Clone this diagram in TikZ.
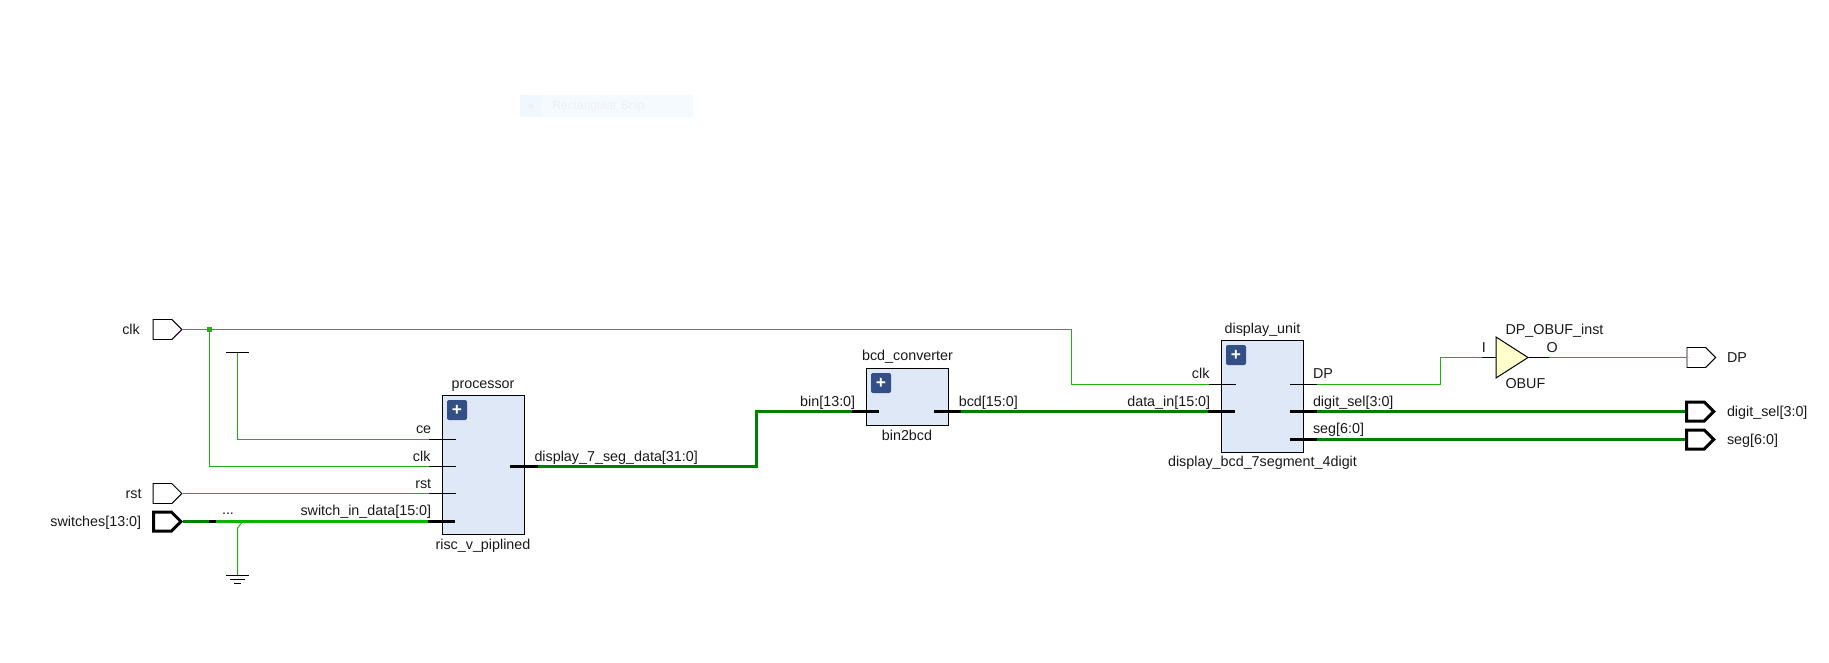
\documentclass[tikz,border=0pt]{standalone}
\usepackage{fontspec}
\setmainfont{Liberation Sans}
\usetikzlibrary{shapes.geometric,shapes.symbols}

\definecolor{wirelight}{RGB}{32,176,16}
\definecolor{busdark}{RGB}{0,128,0}
\definecolor{busbright}{RGB}{16,176,0}
\definecolor{blockfill}{RGB}{222,232,247}
\definecolor{plusfill}{RGB}{51,79,133}
\definecolor{bufferfill}{RGB}{255,255,204}
\definecolor{snipfill}{RGB}{245,250,254}
\definecolor{snipleft}{RGB}{240,247,254}
\definecolor{sniptext}{RGB}{238,240,243}

\tikzset{every picture/.style={line width=0.75pt}}
\tikzset{
  wire/.style={draw=wirelight,line width=0.75pt},
  bus/.style={draw=busdark,line width=2.25pt},
  busb/.style={draw=busbright,line width=2.25pt},
  pin/.style={draw=black,line width=0.75pt},
  buspin/.style={draw=black,line width=2.25pt},
  rail/.style={draw=black,line width=0.75pt},
  portthin/.style={signal,signal to=east,signal pointer angle=90,draw=black,fill=white,line width=0.7pt,inner sep=0pt,minimum width=21.5pt,minimum height=15pt},
  portbus/.style={portthin,line width=2.25pt,minimum width=20.5pt,minimum height=14.25pt},
  blockbox/.style={draw=black,fill=blockfill,line width=0.75pt,inner sep=0pt},
  plusbox/.style={fill=plusfill,rounded corners=1.5pt,minimum size=15pt,inner sep=0pt,text=white,font=\fontsize{13}{13}\selectfont\bfseries},
  sig/.style={font=\fontsize{10.75}{12}\selectfont,inner sep=0pt,text=black!90},
}

\begin{document}
\begin{tikzpicture}[x=0.75pt,y=0.75pt,yscale=-1,xscale=1]
\path[use as bounding box] (0,0) rectangle (1829,663);

% Snip bar
\fill [snipfill] (520,95) rectangle (692.7,116.7);
\fill [snipleft] (520,95) rectangle (542,116.7);
\fill [sniptext] (531,106) circle (2.8);
\node [anchor=base west,inner sep=0pt,text=sniptext,font=\fontsize{9}{11}\selectfont] (snip) at (552,110) {Rectangular Snip};

% Blocks
\node [blockbox,anchor=north west,minimum width=61.5pt,minimum height=104.25pt] (processor) at (442,395) {};
\node [blockbox,anchor=north west,minimum width=61.5pt,minimum height=42.75pt] (converter) at (866,368) {};
\node [blockbox,anchor=north west,minimum width=61.5pt,minimum height=84pt] (displayunit) at (1221,340) {};
\node [plusbox] (processorplus) at (457,410) {+};
\node [plusbox] (converterplus) at (881,383) {+};
\node [plusbox] (displayplus) at (1236,355) {+};
\node [isosceles triangle,isosceles triangle stretches,shape border rotate=0,draw=black,fill=bufferfill,line width=0.75pt,inner sep=0pt,minimum width=30.75pt,minimum height=24pt,anchor=lower side] (obuf) at (1495.5,357.5) {};

% Ports
\node [portthin,anchor=east] (clkport) at (182.5,329.5) {};
\node [portthin,anchor=east] (rstport) at (182.5,493.5) {};
\node [portbus,anchor=east] (switchport) at (183,521.5) {};
\node [portthin,anchor=west] (dpport) at (1686.5,357.5) {};
\node [portbus,anchor=west] (digitport) at (1685,411.5) {};
\node [portbus,anchor=west] (segport) at (1685,439.5) {};

% Junction and wire corners
\node [fill=wirelight,minimum size=3.75pt,inner sep=0pt] (clkdot) at (209.5,329.5) {};
\coordinate (vccbar) at (237.5,352.5);
\coordinate (gndbar) at (237.5,575.5);
\coordinate (gndtap) at (237.5,528);
\coordinate (gndjoin) at (242.7,521.5);
\coordinate (procceout) at (429,439.5);
\coordinate (procce) at (456,439.5);
\coordinate (procclkout) at (429,466.5);
\coordinate (procclk) at (456,466.5);
\coordinate (procrstout) at (429,493.5);
\coordinate (procrst) at (456,493.5);
\coordinate (procswout) at (428,521.5);
\coordinate (procsw) at (455,521.5);
\coordinate (tiestart) at (209,521.5);
\coordinate (tieend) at (216,521.5);
\coordinate (procdata) at (510,466.5);
\coordinate (procdataout) at (538,466.5);
\coordinate (binout) at (852.3,411.5);
\coordinate (binin) at (879,411.5);
\coordinate (bcdin) at (934,411.5);
\coordinate (bcdout) at (961,411.5);
\coordinate (datain) at (1208,411.5);
\coordinate (datapin) at (1235,411.5);
\coordinate (unitclkout) at (1209,384.5);
\coordinate (unitclk) at (1236,384.5);
\coordinate (dpin) at (1290,384.5);
\coordinate (dpout) at (1317,384.5);
\coordinate (digitin) at (1290,411.5);
\coordinate (digitout) at (1317,411.5);
\coordinate (segin) at (1290,439.5);
\coordinate (segout) at (1317,439.5);
\coordinate (obufin) at (1482,357.5);
\coordinate (obufout) at (1549,357.5);

%Wires
\draw [wire] (clkport.east) -- (clkdot.center);
\draw [wire] (clkdot.center) -| (1071.5,384.5) -- (unitclkout);
\draw [wire] (clkdot.center) |- (procclkout);
\draw [wire] (vccbar) |- (procceout);
\draw [wire] (rstport.east) -- (procrstout);
\draw [bus] (switchport.east) -- (tiestart);
\draw [busb] (tieend) -- (procswout);
\draw [wire] (gndjoin) -- (gndtap) -- (gndbar);
\draw [bus] (procdataout) -| (756.5,411.5) -- (binout);
\draw [bus] (bcdout) -- (datain);
\draw [wire] (dpout) -| (1440.5,357.5) -- (obufin);
\draw [wire] (obufout) -- (dpport.west);
\draw [bus] (digitout) -- (digitport.west);
\draw [bus] (segout) -- (segport.west);

%Pin stubs
\draw [pin] (procceout) -- (procce);
\draw [pin] (procclkout) -- (procclk);
\draw [pin] (procrstout) -- (procrst);
\draw [buspin] (procswout) -- (procsw);
\draw [buspin] (tiestart) -- (tieend);
\draw [buspin] (procdata) -- (procdataout);
\draw [buspin] (binout) -- (binin);
\draw [buspin] (bcdin) -- (bcdout);
\draw [buspin] (datain) -- (datapin);
\draw [pin] (unitclkout) -- (unitclk);
\draw [pin] (dpin) -- (dpout);
\draw [buspin] (digitin) -- (digitout);
\draw [buspin] (segin) -- (segout);
\draw [pin] (obufin) -- (obuf.lower side);
\draw [pin] (obuf.apex) -- (obufout);

%Supply symbols
\draw [rail] (226,352.5) -- (249,352.5);
\draw [rail] (226,575.5) -- (249,575.5);
\draw [rail] (230,579.5) -- (245,579.5);
\draw [rail] (234,583.5) -- (241,583.5);

% Text Node
\node [sig,anchor=base east] (clklabel) at (140.3,334.5) {clk};
\node [sig,anchor=base east] (rstlabel) at (142,498.5) {rst};
\node [sig,anchor=base east] (switchlabel) at (141.7,526) {switches[13:0]};
\node [sig,anchor=base] (dotslabel) at (228,514.5) {...};
\node [sig,anchor=base east] (celabel) at (431.7,433) {ce};
\node [sig,anchor=base east] (procclklabel) at (431,461.3) {clk};
\node [sig,anchor=base east] (procrstlabel) at (431.7,488) {rst};
\node [sig,anchor=base east] (swinlabel) at (431.7,515) {switch\_in\_data[15:0]};
\node [sig,anchor=base west] (seglabelout) at (534,461.3) {display\_7\_seg\_data[31:0]};
\node [sig,anchor=base] (processorname) at (483,388) {processor};
\node [sig,anchor=base] (processortype) at (483,549.3) {risc\_v\_piplined};
\node [sig,anchor=base] (convertername) at (907.5,360.7) {bcd\_converter};
\node [sig,anchor=base] (convertertype) at (907,440) {bin2bcd};
\node [sig,anchor=base east] (binlabel) at (855.7,406) {bin[13:0]};
\node [sig,anchor=base west] (bcdlabel) at (958.3,406) {bcd[15:0]};
\node [sig,anchor=base east] (datalabel) at (1210.7,406) {data\_in[15:0]};
\node [sig,anchor=base east] (unitclklabel) at (1210,378.3) {clk};
\node [sig,anchor=base] (unitname) at (1262.5,333.2) {display\_unit};
\node [sig,anchor=base] (unittype) at (1262.5,466.7) {display\_bcd\_7segment\_4digit};
\node [sig,anchor=base west] (dplabel) at (1312.5,378) {DP};
\node [sig,anchor=base west] (digitlabel) at (1312.5,406) {digit\_sel[3:0]};
\node [sig,anchor=base west] (seglabel) at (1312.5,433.3) {seg[6:0]};
\node [sig,anchor=base west] (obufname) at (1505,334.5) {DP\_OBUF\_inst};
\node [sig,anchor=base west] (obuftype) at (1505,388) {OBUF};
\node [sig,anchor=base west] (obufi) at (1481.3,352) {I};
\node [sig,anchor=base west] (obufo) at (1546,352) {O};
\node [sig,anchor=base west] (dpname) at (1726.5,362) {DP};
\node [sig,anchor=base west] (digitname) at (1726.5,416.7) {digit\_sel[3:0]};
\node [sig,anchor=base west] (segname) at (1726.5,444.3) {seg[6:0]};

\end{tikzpicture}
\end{document}
